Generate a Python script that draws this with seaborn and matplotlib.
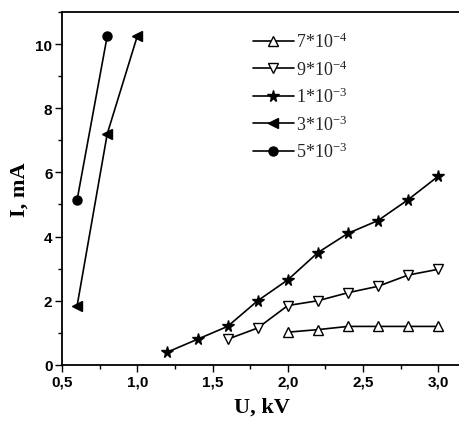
import matplotlib
matplotlib.use("Agg")
import matplotlib.pyplot as plt
import seaborn as sns
import pandas as pd
from matplotlib.ticker import MultipleLocator, FuncFormatter
from matplotlib.lines import Line2D

sns.set_theme(style="white")
plt.rcParams['font.family'] = ['Liberation Serif', 'DejaVu Serif']
plt.rcParams['mathtext.fontset'] = 'custom'
plt.rcParams['mathtext.rm'] = 'Liberation Serif'
plt.rcParams['mathtext.it'] = 'Liberation Serif:italic'
plt.rcParams['mathtext.bf'] = 'Liberation Serif:bold'

# Data
u_7e4 = [2.0, 2.2, 2.4, 2.6, 2.8, 3.0]
i_7e4 = [1.02, 1.1, 1.2, 1.2, 1.2, 1.2]
u_9e4 = [1.6, 1.8, 2.0, 2.2, 2.4, 2.6, 2.8, 3.0]
i_9e4 = [0.8, 1.15, 1.85, 2.0, 2.25, 2.45, 2.8, 2.98]
u_1e3 = [1.2, 1.4, 1.6, 1.8, 2.0, 2.2, 2.4, 2.6, 2.8, 3.0]
i_1e3 = [0.4, 0.8, 1.2, 2.0, 2.65, 3.5, 4.1, 4.5, 5.15, 5.88]
u_3e3 = [0.6, 0.8, 1.0]
i_3e3 = [1.85, 7.2, 10.25]
u_5e3 = [0.6, 0.8]
i_5e3 = [5.15, 10.25]
labels = [r'7*10$^{\mathrm{-4}}$', r'9*10$^{\mathrm{-4}}$', r'1*10$^{\mathrm{-3}}$',
          r'3*10$^{\mathrm{-3}}$', r'5*10$^{\mathrm{-3}}$']

fig = plt.figure(figsize=(4.6, 4.31), dpi=100)
ax = fig.add_axes([0.135, 0.151, 0.87, 0.819])

series = [
    (u_7e4, i_7e4, '^', 'white', 7),
    (u_9e4, i_9e4, 'v', 'white', 7),
    (u_1e3, i_1e3, '*', 'black', 8.5),
    (u_3e3, i_3e3, '<', 'black', 7.5),
    (u_5e3, i_5e3, 'o', 'black', 6.5),
]
handles = []
for (u, i, m, fc, ms), lab in zip(series, labels):
    df = pd.DataFrame({'U': u, 'I': i})
    sns.lineplot(data=df, x='U', y='I', ax=ax, color='black', lw=1.2,
                 marker=m, markersize=ms, markerfacecolor=fc,
                 markeredgecolor='black', markeredgewidth=1.0, sort=False)
    handles.append(Line2D([], [], color='black', lw=1.2, marker=m, markersize=ms,
                          markerfacecolor=fc, markeredgecolor='black', markeredgewidth=1.0))

ax.set_xlim(0.5, 3.16)
ax.set_ylim(0, 11.0)
ax.xaxis.set_major_locator(MultipleLocator(0.5))
ax.xaxis.set_minor_locator(MultipleLocator(0.25))
ax.yaxis.set_major_locator(MultipleLocator(2))
ax.yaxis.set_minor_locator(MultipleLocator(1))
ax.xaxis.set_major_formatter(FuncFormatter(lambda v, p: f'{v:.1f}'.replace('.', ',')))
ax.yaxis.set_major_formatter(FuncFormatter(lambda v, p: f'{v:.0f}'))
ax.tick_params(which='both', direction='out', bottom=True, left=True, color='black', width=1.0)
ax.tick_params(which='major', length=5, pad=2)
ax.tick_params(which='minor', length=3)
for lab in ax.get_xticklabels() + ax.get_yticklabels():
    lab.set_fontfamily('Liberation Sans')
    lab.set_fontweight('bold')
    lab.set_fontsize(11)
    lab.set_color('black')

for side in ['left', 'bottom', 'top']:
    ax.spines[side].set_visible(True)
    ax.spines[side].set_color('black')
    ax.spines[side].set_linewidth(1.3)
ax.spines['right'].set_visible(False)

ax.set_xlabel('U, kV', fontsize=16, fontweight='bold', color='black', labelpad=6)
ax.set_ylabel('I, mA', fontsize=16, fontweight='bold', color='black', labelpad=4)

ax.legend(handles, labels, loc='upper left', bbox_to_anchor=(0.44, 0.985), frameon=False,
          fontsize=13, labelspacing=0.45, handlelength=2.3, handletextpad=0.1,
          borderpad=0.3)

fig.savefig('out.png', dpi=100)
